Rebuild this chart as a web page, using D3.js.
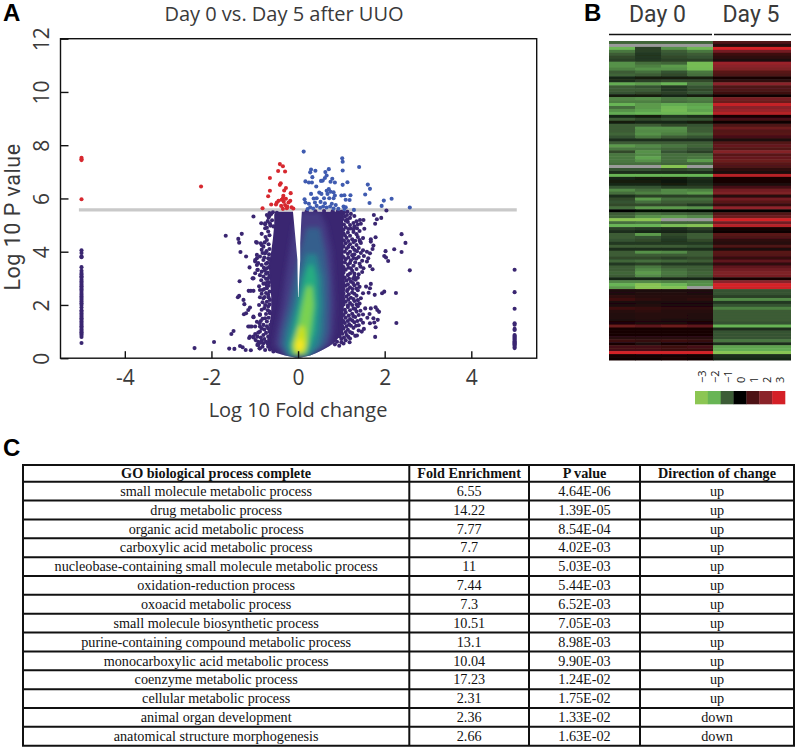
<!DOCTYPE html>
<html>
<head>
<meta charset="utf-8">
<script src="https://cdn.jsdelivr.net/npm/d3@7"></script>
<style>
    html, body { margin: 0; padding: 0; background: #fff; }
    svg { display: block; }
    .panel { font-family: "Liberation Sans", sans-serif; font-weight: bold; font-size: 24px; fill: #000; }
    .myriad { font-family: "Open Sans", sans-serif; fill: #3a3a3a; }
    .tight { font-family: Roboto, sans-serif; fill: #3a3a3a; }
    .cell { font-family: "Liberation Serif", serif; font-size: 14.2px; fill: #111; text-anchor: middle; }
</style>
</head>
<body>
<div id="chart"></div>
<script>
// volcano plot as [log10 fold change, log10 p]
var redPoints = [[-5,7.53],[-5,7.47],[-5,7.44],[-5,5.97],[-2.24,6.45],[-0.42,7.29],[-0.35,7.21],[-0.46,7.03],[-0.30,7.01],[-0.65,6.77],
    [-0.40,6.57],[-0.42,6.51],[-0.28,6.39],[-0.32,6.30],[-0.65,6.29],[-0.17,6.20],[-0.69,6.08],[-0.34,6.10],[-0.35,6.01],[-0.28,5.99],
    [-0.45,5.91],[-0.49,5.85],[-0.18,5.91],[-0.22,5.85],[-0.62,5.77],[-0.51,5.77],[-0.39,5.72],[-0.26,5.63],[-0.15,5.67],[-0.82,5.63],
    [-0.11,5.62],[-0.35,5.61],[-0.38,5.95],[-0.33,5.88],[-0.25,5.70],[-0.30,5.75]];
var bluePoints = [[0.13,7.76],[1.02,7.51],[1.03,7.38],[1.41,7.18],[0.71,7.10],[1.03,7.05],[0.30,7.09],[0.40,7.04],[0.28,6.98],[0.63,6.99],
    [0.66,6.86],[0.33,6.80],[0.62,6.77],[0.79,6.74],[0.57,6.67],[0.53,6.66],[0.17,6.64],[0.25,6.60],[0.32,6.60],[0.75,6.63],
    [0.85,6.60],[1.14,6.61],[1.03,6.51],[1.61,6.52],[1.66,6.36],[0.42,6.45],[0.71,6.35],[0.66,6.29],[0.82,6.23],[0.75,6.25],
    [0.30,6.17],[0.49,6.22],[0.54,6.17],[0.68,6.17],[0.85,6.11],[1.55,6.15],[1.00,6.11],[1.07,6.12],[1.21,6.12],[0.43,6.01],
    [0.36,6.00],[0.60,6.01],[0.72,6.01],[0.82,6.01],[0.15,5.97],[1.10,5.95],[1.19,5.94],[2.16,5.99],[1.98,5.92],[1.65,5.83],
    [0.17,5.85],[0.25,5.80],[0.39,5.85],[0.52,5.87],[0.62,5.82],[0.78,5.80],[0.87,5.75],[1.93,5.72],[1.05,5.70],[1.10,5.67],
    [2.58,5.66],[1.29,5.57],[0.22,5.60],[0.35,5.62],[0.51,5.65],[0.66,5.66],[0.82,5.62],[0.93,5.61],[1.07,5.60],[0.43,5.72],
    [0.58,5.70],[0.74,5.70],[0.28,5.67]];
var scatterLeft = [[-1.03,5.32],[-0.85,5.07],[-0.76,5.03],[-1.67,4.60],[-1.30,4.67],[-1.38,4.48],[-1.36,4.34],[-0.95,4.34],[-0.84,4.25],[-1.33,3.99],
    [-1.20,3.82],[-0.95,3.75],[-0.99,3.63],[-0.95,3.50],[-1.12,3.41],[-0.94,3.31],[-1.03,3.00],[-1.35,2.89],[-1.14,2.53],[-1.09,2.53],
    [-1.03,2.53],[-1.39,2.29],[-1.36,2.34],[-1.26,2.19],[-1.24,2.03],[-1.11,1.90],[-1.15,1.81],[-1.20,1.69],[-1.25,1.65],[-1.03,1.54],
    [-0.88,1.65],[-1.15,1.19],[-1.07,1.19],[-0.95,1.37],[-0.88,1.19],[-1.49,1.02],[-1.54,0.91],[-1.13,0.76],[-1.03,0.81],[-0.94,0.81],
    [-1.94,0.61],[-2.39,0.38],[-1.59,0.36],[-1.47,0.35],[-1.34,0.46],[-1.28,0.41],[-1.09,0.30],[-0.92,0.50],[-0.88,0.37],[-1.21,0.31],
    [-0.76,4.88],[-0.84,4.67],[-0.69,4.76],[-0.65,5.07],[-0.57,4.95],[-0.76,5.07],[-0.97,4.36],[-0.86,4.32],[-0.80,4.19],[-0.72,4.44],
    [-0.84,4.07],[-0.95,3.88],[-0.99,3.69],[-0.88,3.82],[-0.76,3.94],[-0.92,3.57],[-0.80,3.69],[-0.69,3.75],[-0.93,3.32],[-0.84,3.25],
    [-0.72,3.38],[-0.99,3.19],[-1.05,3.00],[-0.80,3.07],[-0.69,3.00],[-0.76,2.81],[-0.88,2.56],[-0.82,2.56],[-0.72,2.63],[-0.69,2.38],
    [-0.80,2.25],[-0.88,2.29],[-0.65,2.19],[-0.76,2.00],[-0.69,1.94],[-0.88,1.62],[-1.03,1.56],[-0.65,1.69],[-0.76,1.50],[-0.61,1.37],
    [-0.80,1.25],[-0.89,1.31],[-0.99,1.19],[-1.11,1.19],[-0.69,1.12],[-0.88,1.00],[-0.99,0.91],[-0.80,0.87],[-0.69,0.81],[-1.11,0.81],
    [-1.03,0.78],[-0.92,0.62],[-0.84,0.66],[-0.74,0.62],[-0.94,0.50],[-0.82,0.43],[-0.69,0.43],[-0.89,0.37],[-0.76,0.31],[-0.65,0.33],
    [-0.53,0.41],[-0.57,0.25],[-0.62,5.42],[-0.68,5.28],[-0.60,5.18],[-0.71,3.58],[-0.74,3.17],[-0.70,2.86],[-0.68,2.72],
    [-0.66,5.35],[-0.7,5.15],[-0.64,4.98],[-0.72,4.9],[-0.66,4.62],[-0.75,4.55],[-0.68,4.28],[-0.77,4.35],[-0.66,4.1],[-0.73,4.02],
    [-0.67,3.9],[-0.82,3.95],[-0.78,3.78],[-0.66,3.7],[-0.74,3.55],[-0.84,3.5],[-0.67,3.42],[-0.79,3.4],[-0.7,3.22],[-0.77,3.3],
    [-0.88,3.12],[-0.66,3.1],[-0.74,2.98],[-0.85,2.93],[-0.67,2.85],[-0.8,2.8],[-0.9,2.7],[-0.72,2.72],[-0.78,2.6],[-0.66,2.5],
    [-0.74,2.45],[-0.84,2.42],[-0.68,2.28],[-0.77,2.3],[-0.72,2.12],[-0.82,2.1],[-0.66,2.02],[-0.9,2.0],[-0.78,1.88],[-0.7,1.8],
    [-0.84,1.82],[-0.66,1.75],[-0.74,1.66],[-0.82,1.48],[-0.68,1.52],[-0.72,1.38],[-0.86,1.4],[-0.64,1.25],[-0.72,1.2],[-0.78,1.08],
    [-0.84,1.12],[-0.66,1.0],[-0.74,0.95],[-0.92,0.96],[-0.86,0.78],[-0.78,0.72],[-0.66,0.7],[-0.98,0.68],[-0.7,0.54],[-0.8,0.56],
    [-0.86,0.58],[-0.6,0.52],[-0.58,5.48],[-0.66,5.45],[-0.72,5.38],[-0.49,5.46]];
var scatterRight = [[2.04,5.55],[1.92,5.27],[1.82,5.22],[1.75,5.38],[1.78,5.05],[1.51,5.19],[1.43,5.19],[1.53,4.86],[1.45,5.05],[1.36,4.88],
    [2.39,4.66],[2.48,4.33],[2.22,4.09],[2.39,3.99],[2.02,4.02],[1.99,3.84],[2.03,3.78],[2.08,3.65],[2.58,3.30],[1.79,4.54],
    [1.68,4.47],[1.74,4.23],[1.72,4.10],[1.68,4.38],[1.43,4.38],[1.59,4.00],[1.66,3.94],[1.62,3.75],[1.59,3.63],[1.66,3.46],
    [1.72,3.34],[1.51,3.38],[1.68,2.79],[1.57,2.69],[1.66,2.63],[1.77,2.38],[1.63,2.46],[1.94,2.44],[1.99,2.50],[2.26,2.45],
    [1.79,1.91],[1.83,1.81],[1.87,1.74],[1.68,1.87],[1.55,1.87],[1.65,1.66],[1.74,1.50],[1.84,1.44],[1.76,1.34],[1.66,1.31],
    [2.27,1.32],[1.79,1.16],[1.78,0.80],[1.52,1.10],[1.47,1.00],[1.36,0.85],[1.19,0.60],
    [1.08,5.31],[1.20,5.27],[1.30,5.34],[1.15,5.12],[1.28,5.08],[1.10,5.16],[1.10,4.92],[1.22,4.87],[1.30,4.95],[1.15,4.72],
    [1.05,4.68],[1.28,4.74],[1.12,4.52],[1.25,4.47],[1.38,4.55],[1.32,4.41],[1.50,4.51],[1.10,4.32],[1.20,4.28],[1.35,4.25],
    [1.45,4.33],[1.12,4.11],[1.30,4.07],[1.40,4.14],[1.50,4.05],[1.15,3.92],[1.25,3.87],[1.45,3.95],[1.52,3.84],[1.10,3.72],
    [1.22,3.68],[1.35,3.74],[1.48,3.66],[1.15,3.52],[1.28,3.47],[1.42,3.55],[1.10,3.32],[1.25,3.28],[1.35,3.35],[1.48,3.24],
    [1.15,3.12],[1.30,3.07],[1.40,3.15],[1.12,2.92],[1.22,2.87],[1.33,2.95],[1.10,2.72],[1.20,2.66],[1.30,2.74],[1.42,2.68],
    [1.13,2.52],[1.25,2.47],[1.38,2.55],[1.50,2.44],[1.12,2.32],[1.22,2.27],[1.35,2.35],[1.45,2.25],[1.10,2.12],[1.20,2.07],
    [1.30,2.15],[1.42,2.05],[1.15,1.92],[1.28,1.87],[1.38,1.95],[1.10,1.72],[1.25,1.67],[1.35,1.75],[1.50,1.64],[1.10,1.52],
    [1.20,1.47],[1.32,1.55],[1.45,1.44],[1.60,1.52],[1.08,1.32],[1.18,1.27],[1.30,1.35],[1.40,1.24],[1.50,1.33],[1.05,1.12],
    [1.15,1.07],[1.28,1.14],[1.40,1.04],[1.02,0.92],[1.12,0.87],[1.25,0.94],[1.32,0.84],[1.00,0.72],[1.10,0.67],[1.20,0.74],
    [0.85,0.52],[0.95,0.47],[1.05,0.55],
    [1.04,5.42],[1.13,5.38],[1.22,5.42],[1.02,5.22],[1.14,5.22],[1.35,5.14],[1.06,5.02],[1.2,5.0],[1.38,5.02],[1.05,4.82],
    [1.16,4.85],[1.28,4.84],[1.42,4.78],[1.08,4.62],[1.2,4.6],[1.35,4.66],[1.06,4.42],[1.16,4.4],[1.28,4.36],[1.42,4.44],
    [1.05,4.2],[1.16,4.18],[1.26,4.16],[1.36,4.02],[1.08,4.0],[1.2,4.0],[1.3,3.9],[1.05,3.8],[1.16,3.78],[1.28,3.76],
    [1.4,3.8],[1.08,3.6],[1.2,3.58],[1.32,3.6],[1.44,3.44],[1.05,3.42],[1.16,3.4],[1.22,3.38],[1.3,3.18],[1.05,3.22],
    [1.2,3.18],[1.38,3.02],[1.08,3.02],[1.18,2.98],[1.27,2.98],[1.05,2.82],[1.15,2.78],[1.27,2.82],[1.38,2.8],[1.05,2.6],
    [1.15,2.58],[1.26,2.6],[1.35,2.62],[1.05,2.42],[1.17,2.4],[1.3,2.42],[1.05,2.22],[1.16,2.2],[1.28,2.22],[1.38,2.18],
    [1.05,2.02],[1.15,1.98],[1.25,2.0],[1.35,2.02],[1.08,1.82],[1.2,1.8],[1.32,1.85],[1.44,1.78],[1.05,1.62],[1.17,1.6],
    [1.28,1.58],[1.4,1.62],[1.05,1.4],[1.15,1.4],[1.25,1.42],[1.37,1.4],[1.02,1.2],[1.12,1.2],[1.22,1.22],[1.34,1.22],
    [1.0,1.02],[1.1,0.98],[1.2,0.98],[0.96,0.82],[1.06,0.78],[1.16,0.8],[0.9,0.62],[1.0,0.6],
    [1.06,5.48],[1.14,5.5],[1.0,5.5],[0.92,5.52],[0.8,5.52],[0.6,5.53],[0.4,5.52],[0.2,5.52]];
var columnLeftY = [4.05,3.95,3.83,3.79,3.42,3.28,3.2,3.14,3.08,3.03,2.95,2.88,2.82,2.76,2.7,2.64,2.58,2.52,2.45,2.38,
    2.32,2.26,2.2,2.13,2.06,2.0,1.9,1.8,1.74,1.68,1.62,1.56,1.5,1.44,1.38,1.32,1.26,1.2,1.14,1.08,1.02,0.97,0.92,0.87,0.8,0.57];
var columnRightY = [3.32,2.48,1.86,1.31,1.26,1.10,1.06,0.87,0.83,0.80,0.76,0.72,0.68,0.64,0.60,0.56,0.52,0.48,0.42,0.38];
var cloudOutline = [[0.02,-0.05,0.05],[0.1,-0.3,0.28],[0.2,-0.5,0.42],[0.3,-0.62,0.55],[0.45,-0.72,0.72],[0.6,-0.72,0.85],[0.9,-0.68,1.0],
    [1.3,-0.65,1.05],[1.8,-0.62,1.05],[2.3,-0.62,1.08],[3,-0.65,1.08],[3.5,-0.68,1.05],[4,-0.62,1.05],[4.5,-0.58,1.05],[5,-0.55,1.04],[5.4,-0.55,1.04],[5.5,-0.5,1.0]];
var cloudGap = [[2.3,0,0.01],[3.07,-0.01,0.03],[3.7,-0.015,0.05],[4.32,-0.05,0.05],[5.2,-0.1,0.075],[5.55,-0.12,0.09]];
var densityLevels = [0.17, 0.3, 0.45, 0.62, 0.8, 0.92, 1];
var densityShapes = [
    [[0.05,-0.3,0.3],[0.5,-0.55,0.75],[1,-0.5,0.82],[2,-0.38,0.85],[3,-0.3,0.82],[4,-0.2,0.78],[5,-0.1,0.65],[5.5,0.1,0.5]],
    [[0.05,-0.25,0.28],[0.5,-0.42,0.62],[1,-0.38,0.7],[2,-0.22,0.72],[3,-0.1,0.7],[4,0.05,0.62],[4.9,0.2,0.5]],
    [[0.05,-0.2,0.23],[0.5,-0.3,0.48],[1,-0.25,0.55],[2,-0.08,0.58],[3,0.05,0.55],[3.9,0.2,0.42]],
    [[0.1,-0.14,0.2],[0.5,-0.2,0.3],[1,-0.12,0.4],[2,0.02,0.45],[3,0.14,0.42],[3.5,0.24,0.35]],
    [[0.15,-0.1,0.17],[0.5,-0.14,0.22],[1,-0.02,0.28],[2,0.1,0.36],[2.7,0.2,0.32]],
    [[0.2,-0.07,0.13],[0.5,-0.1,0.2],[0.9,-0.04,0.17],[1.2,0.02,0.14]],
    [[0.3,-0.03,0.09],[0.45,-0.05,0.12],[0.7,0,0.09]]
];
var thresholdY = 5.57;
var xTicks = [-4, -2, 0, 2, 4];
var yTicks = [0, 2, 4, 6, 8, 10, 12];

// heatmap, one row per gene: four Day 0 columns, then the Day 5 value
var heatDay0 = [[-1.1,-1.1,-1.1,-1.1],[null,null,null,null],[-2.1,-0.7,-1.6,-2.2],[-1.3,-0.7,-1,-1.3],[-1,-0.6,-0.9,-1],[-0.8,-0.6,-0.8,-0.9],[-0.7,-0.6,-0.7,-0.7],
    [-1.6,-1.2,-1.1,-2.4],[-1.6,-1.4,-1.7,-2.4],[-1.4,-1.6,-1.6,-2.3],[-1,-1.2,-0.9,-1.3],[-1.1,-1,-0.8,-1.2],[-0.4,-0.3,-0.3,-0.3],[-0.5,-0.7,-0.8,-0.8],
    [-1.9,-1.7,-2,-1.2],[-1,-0.9,-0.6,-0.9],[-1,-1,-0.6,-0.8],[-0.9,-0.8,-0.7,-0.9],[-0.3,-0.3,-0.4,-0.3],[-1.5,-1.6,-1.3,-1.4],[-1.4,-1.4,-1.2,-1.3],
    [-2,-1.7,-1.9,-1.8],[-1.2,-1.7,-2.2,-1.9],[-1.6,-1.8,-2.3,-1.8],[-1.9,-2,-2.1,-2.2],[-0.4,-0.3,-0.6,-0.5],[-1,-0.8,-0.9,-0.9],[-0.3,-0.4,-0.4,-0.3],
    [-1,-1,-0.8,-0.9],[-1,-1.6,-1.6,-1],[-1,-1.5,-1.5,-1],[-1.1,-1.6,-1.4,-1.2],[-0.9,-1.3,-1,-0.9],[-0.5,-0.5,-0.5,-0.5],[-1,-1,-1,-1],
    [-1.7,-1.5,-1.3,-1.1],[-1.3,-1.3,-1.1,-0.9],[-0.8,-1.6,-0.9,-0.7],[-1.3,-1.5,-1.2,-1.2],[-1.3,-1.8,-1.2,-1.3],[-1.3,-1.6,-1.2,-1.7],[-1.2,-1.2,-1.1,-1.1],
    [null,null,-2.9,null],[-0.9,-0.9,-0.8,-0.9],[-0.5,-0.5,-0.5,-0.5],[-2,-2,-2,-2],[-0.4,-0.3,-0.3,-0.5],[-0.3,-0.3,-0.25,-0.4],[-0.4,-0.4,-0.3,-0.5],
    [-0.9,-0.9,-0.7,-0.7],[-1.5,-1.2,-1.5,-1.4],[-1.2,-1.4,-1.5,-1.7],[-0.5,-0.7,-0.7,-0.7],[-0.8,-1.7,-1.2,-1.2],[-0.9,-1.2,-1,-1],[-0.8,-0.8,-0.8,-0.6],
    [-1.2,-1.7,-1.7,-1.6],[0,-0.1,-0.1,-0.1],[-1,-1.2,-1.1,-1],[-1.1,-1.6,-1.7,-1.5],[-3,-3,null,null],[-1.2,-1.3,-1.1,-1.1],[-2,-2,-2.5,-2.8],
    [-0.7,-0.6,-0.5,-0.7],[-0.5,-0.4,-0.4,-0.5],[-1,-1.7,-0.8,-1],[-1,-0.9,-0.7,-1],[-0.9,-0.8,-0.6,-0.8],[-0.6,-0.6,-0.6,-0.6],[-1,-1,-1,-0.9],
    [-0.5,-0.5,-0.5,-0.5],[-1,-1.6,-1.5,-1],[-1,-1,-1,-1],[-0.8,-0.8,-0.7,-0.8],[-1.1,-1.2,-1.1,-1],[-0.6,-0.7,-0.6,-0.6],[-1,-1.3,-1,-1],
    [-1,-1.5,-1.2,-1],[-1.1,-1.7,-1.3,-1.1],[-1,-1.5,-1.2,-1],[-0.4,-0.4,-0.4,-0.4],[-1.5,-1.5,-1.4,-1.5],[-2,-2.9,-2.1,-1.6],[-1.7,-2.9,-2.7,null],
    [0.4,0.4,0.4,0.4],[0.4,0.45,0.45,0.4],[0.6,0.5,0.5,0.5],[0.8,0.6,0.5,0.6],[0.4,0.4,0.4,0.4],[0.4,0.45,0.4,0.4],[0.8,0.7,0.6,0.6],[0.5,0.6,0.5,0.5],
    [0.45,0.5,0.5,0.45],[0.45,0.5,0.5,0.45],[0.4,0.45,0.4,0.4],[0.35,0.4,0.4,0.35],[1.5,1.3,1.5,1.3],[0.3,0.3,0.3,0.3],[0.3,0.3,0.3,0.3],[0.3,0.3,0.3,0.3],
    [0.5,0.5,0.5,0.5],[0.8,0.7,0.8,0.7],[0.3,0.4,0.3,0.3],[0.9,0.9,0.8,0.9],[0.9,0.9,0.8,0.8],[3,3,3,3],[0.25,0.3,0.3,0.25],[0.2,0.2,0.25,0.2]];
var heatDay5 = [1,0.5,3,1.6,0.8,0.6,0.4,2.2,2,1.8,1.2,1,0.3,0.6,2,1,1,0.8,0.2,1.7,1.5,2.8,2,2.2,2.6,0.3,0.9,0.2,1,1.5,
    1.1,1.2,0.9,0.4,1.1,1.4,1.1,1.9,1.2,1.4,1.5,1.2,1,0.6,0.4,2.6,0.3,0.25,0.4,0.9,1.6,1.8,0.5,1.6,1.2,0.7,2.1,0.05,1.1,1.5,
    3.2,1.6,2.6,0.3,0.1,1.2,1,0.6,0.5,1,0.4,1.2,1.1,0.7,1.3,0.6,1.3,1.6,1.8,1.7,0.3,2,3,2.9,
    -0.9,-0.9,-0.7,-1.5,-0.6,-0.9,-1.4,-1,-1,-1,-1,-0.9,-2,-0.5,-0.9,-0.9,-0.9,-1.3,-0.5,-1.8,-1.9,-2.9,-0.5,-0.4];
var legendValues = [-3, -2, -1, 0, 1, 2, 3];
var legendColors = ['#8cc653', '#68b555', '#3c5c36', '#000000', '#4d1215', '#8a2329', '#d42027'];

// GO table
var tableHeaders = ['GO biological process complete', 'Fold Enrichment', 'P value', 'Direction of change'];
var goTerms = ['small molecule metabolic process', 'drug metabolic process', 'organic acid metabolic process', 'carboxylic acid metabolic process',
    'nucleobase-containing small molecule metabolic process', 'oxidation-reduction process', 'oxoacid metabolic process', 'small molecule biosynthetic process',
    'purine-containing compound metabolic process', 'monocarboxylic acid metabolic process', 'coenzyme metabolic process', 'cellular metabolic process',
    'animal organ development', 'anatomical structure morphogenesis'];
var foldEnrichment = ['6.55', '14.22', '7.77', '7.7', '11', '7.44', '7.3', '10.51', '13.1', '10.04', '17.23', '2.31', '2.36', '2.66'];
var pValues = ['4.64E-06', '1.39E-05', '8.54E-04', '4.02E-03', '5.03E-03', '5.44E-03', '6.52E-03', '7.05E-03', '8.98E-03', '9.90E-03', '1.24E-02', '1.75E-02', '1.33E-02', '1.63E-02'];
var directions = ['up', 'up', 'up', 'up', 'up', 'up', 'up', 'up', 'up', 'up', 'up', 'up', 'down', 'down'];

(function () {
    'use strict';

    var svg = d3.select('#chart').append('svg').attr('width', 800).attr('height', 747);
    var defs = svg.append('defs');
    defs.append('filter').attr('id', 'soft')
        .attr('x', '-30%').attr('y', '-30%').attr('width', '160%').attr('height', '160%')
        .append('feGaussianBlur').attr('stdDeviation', 2.6);
    defs.append('filter').attr('id', 'rowBlur')
        .append('feGaussianBlur').attr('stdDeviation', '0.3 0.7');

    function panelLabel(text, x, y) {
        svg.append('text').attr('class', 'panel').attr('x', x).attr('y', y).text(text);
    }
    panelLabel('A', 3, 21);
    panelLabel('B', 584, 21);
    panelLabel('C', 3, 456);

    // ---- panel A
    var frame = { left: 60.5, right: 536.7, top: 38.7, bottom: 358.2 };
    var x = d3.scaleLinear().domain([-5.485, 5.51]).range([frame.left, frame.right]);
    var y = d3.scaleLinear().domain([0, 12]).range([frame.bottom, frame.top]);

    var cloudArea = d3.area()
        .y(function (d) { return y(d[0]); })
        .x0(function (d) { return x(d[1]); })
        .x1(function (d) { return x(d[2]); });

    svg.append('line')
        .attr('x1', x(-5.06)).attr('x2', x(5.05))
        .attr('y1', y(thresholdY)).attr('y2', y(thresholdY))
        .attr('stroke', '#c9c9c9').attr('stroke-width', 3.4);

    var dotColor = '#3a2671';
    svg.append('path').attr('d', cloudArea(cloudOutline)).attr('fill', dotColor);

    function dots(data, color) {
        svg.append('g').selectAll('circle').data(data).enter().append('circle')
            .attr('cx', function (d) { return x(d[0]); })
            .attr('cy', function (d) { return y(d[1]); })
            .attr('r', 2.05)
            .attr('fill', color);
    }
    dots(scatterLeft, dotColor);
    dots(scatterRight, dotColor);

    defs.append('clipPath').attr('id', 'cloudClip').append('path').attr('d', cloudArea(cloudOutline));
    var density = svg.append('g').attr('clip-path', 'url(#cloudClip)').append('g').attr('filter', 'url(#soft)');
    densityShapes.forEach(function (shape, i) {
        density.append('path')
            .attr('d', cloudArea(shape))
            .attr('fill', d3.interpolateViridis(densityLevels[i]));
    });
    svg.append('path').attr('d', cloudArea(cloudGap)).attr('fill', '#fff');

    dots(columnLeftY.map(function (v) { return [-5, v]; }), dotColor);
    dots(columnRightY.map(function (v) { return [5, v]; }), dotColor);
    dots(bluePoints, '#3f5bb0');
    dots(redPoints, '#d7282f');

    svg.append('rect')
        .attr('x', frame.left).attr('y', frame.top)
        .attr('width', frame.right - frame.left).attr('height', frame.bottom - frame.top)
        .attr('fill', 'none').attr('stroke', '#111').attr('stroke-width', 1.4);

    var xAxis = svg.append('g').attr('transform', 'translate(0,' + frame.bottom + ')')
        .call(d3.axisBottom(x).tickValues(xTicks).tickSize(-7).tickPadding(12));
    var yAxis = svg.append('g').attr('transform', 'translate(' + frame.left + ',0)')
        .call(d3.axisLeft(y).tickValues(yTicks).tickSize(-8).tickPadding(0));
    [xAxis, yAxis].forEach(function (axis) {
        axis.select('.domain').remove();
        axis.selectAll('.tick line').attr('stroke', '#111').attr('stroke-width', 1.4);
        axis.selectAll('text').attr('class', 'myriad').style('font-size', '21px').attr('fill', '#3a3a3a');
    });
    xAxis.selectAll('text').text(function (d) { return String(d); });
    yAxis.selectAll('text')
        .attr('text-anchor', 'middle')
        .attr('dy', 0).attr('x', 0)
        .attr('transform', 'translate(-12,0) rotate(-90)');

    function myriad(text, px, py, size) {
        return svg.append('text').attr('class', 'myriad')
            .attr('text-anchor', 'middle')
            .attr('x', px).attr('y', py)
            .style('font-size', size + 'px')
            .text(text);
    }
    myriad('Day 0 vs. Day 5 after UUO', 284, 21, 20);
    myriad('Log 10 Fold change', 298, 417, 20);
    myriad('Log 10 P value', 0, 0, 21.5).attr('class', 'tight')
        .style('letter-spacing', '0.5px')
        .attr('transform', 'translate(19.5,217) rotate(-90)');

    // ---- panel B
    var heat = { left: 609, right: 791, top: 41, bottom: 360 };
    var colX = d3.scaleBand().domain(d3.range(7)).range([heat.left, heat.right]);
    var rowY = d3.scaleBand().domain(d3.range(heatDay0.length)).range([heat.top, heat.bottom]);
    var color = d3.scaleLinear().domain(legendValues).range(legendColors).clamp(true);

    var heatGroup = svg.append('g').attr('filter', 'url(#rowBlur)');
    heatDay0.forEach(function (row, r) {
        heatGroup.append('g').selectAll('rect').data(row).enter().append('rect')
            .attr('x', function (d, i) { return colX(i); })
            .attr('y', rowY(r))
            .attr('width', colX.bandwidth() + 0.5)
            .attr('height', rowY.bandwidth() + 0.5)
            .attr('fill', function (d) { return d === null ? '#9a9a9a' : color(d); });
    });
    heatGroup.append('g').selectAll('rect').data(heatDay5).enter().append('rect')
        .attr('x', colX(4))
        .attr('y', function (d, i) { return rowY(i); })
        .attr('width', colX.bandwidth() * 3)
        .attr('height', rowY.bandwidth() + 0.5)
        .attr('fill', function (d) { return color(d); });

    [[609, 712], [714, 791]].forEach(function (b) {
        svg.append('line').attr('x1', b[0]).attr('x2', b[1]).attr('y1', 34.5).attr('y2', 34.5)
            .attr('stroke', '#111').attr('stroke-width', 1.5);
    });
    myriad('Day 0', 657.5, 22, 23).attr('class', 'tight');
    myriad('Day 5', 751, 22, 23).attr('class', 'tight');

    var legendX = d3.scaleBand().domain(legendValues).range([695, 785]);
    svg.append('g').selectAll('rect').data(legendValues).enter().append('rect')
        .attr('x', function (d) { return legendX(d); })
        .attr('y', 391)
        .attr('width', legendX.bandwidth() + 0.3)
        .attr('height', 13.3)
        .attr('fill', function (d) { return color(d); });
    svg.append('g').selectAll('text').data(legendValues).enter().append('text')
        .attr('class', 'myriad')
        .attr('transform', function (d) {
            return 'translate(' + (legendX(d) + legendX.bandwidth() / 2 + 5) + ',383) rotate(-90)';
        })
        .style('font-size', '11px')
        .style('fill', '#222')
        .text(function (d) { return String(d).replace('-', '\u2212'); });

    // ---- panel C
    var columnEdges = [23, 409.3, 529, 640, 794];
    var tableTop = 465, headerBottom = 481.7, tableBottom = 745.7;
    var rowHeight = (tableBottom - headerBottom) / goTerms.length;
    var table = svg.append('g');

    d3.range(goTerms.length + 2).forEach(function (i) {
        var ly = i === 0 ? tableTop : headerBottom + (i - 1) * rowHeight;
        table.append('line').attr('x1', columnEdges[0] - 1).attr('x2', columnEdges[4] + 1)
            .attr('y1', ly).attr('y2', ly).attr('stroke', '#111').attr('stroke-width', 2);
    });
    columnEdges.forEach(function (cx) {
        table.append('line').attr('x1', cx).attr('x2', cx)
            .attr('y1', tableTop).attr('y2', tableBottom).attr('stroke', '#111').attr('stroke-width', 2);
    });

    function cellX(c) { return (columnEdges[c] + columnEdges[c + 1]) / 2; }

    tableHeaders.forEach(function (h, c) {
        table.append('text').attr('class', 'cell')
            .attr('x', cellX(c)).attr('y', tableTop + 12.7)
            .style('font-weight', 'bold')
            .text(h);
    });
    [goTerms, foldEnrichment, pValues, directions].forEach(function (col, c) {
        table.append('g').selectAll('text').data(col).enter().append('text')
            .attr('class', 'cell')
            .attr('x', cellX(c))
            .attr('y', function (d, i) { return headerBottom + i * rowHeight + 14.2; })
            .text(function (d) { return d; });
    });
}());
</script>
</body>
</html>
